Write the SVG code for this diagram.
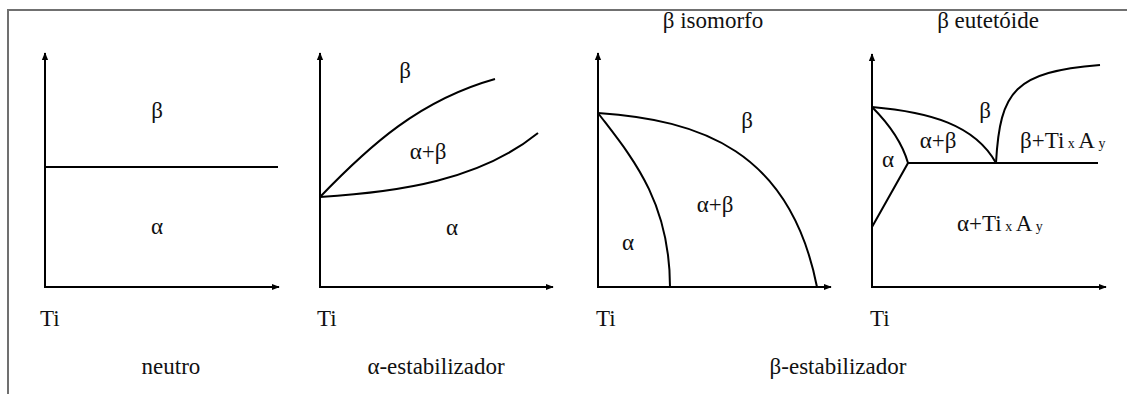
<svg xmlns="http://www.w3.org/2000/svg" width="1127" height="394" viewBox="0 0 1127 394" font-family="Liberation Serif, Times New Roman, serif">
<defs>
<marker id="arr" viewBox="0 0 10 10" refX="9" refY="5" markerWidth="8" markerHeight="8" markerUnits="userSpaceOnUse" orient="auto">
<path d="M0,1 L10,5 L0,9 Z" fill="#000"/>
</marker>
<style>
.ax{stroke:#000;stroke-width:2;fill:none;marker-end:url(#arr)}
.cv{stroke:#000;stroke-width:2;fill:none}
.t{font-size:23px;fill:#111}
.c{text-anchor:middle}
.s{font-size:14px}
</style>
</defs>
<rect width="1127" height="394" fill="#fff"/>
<path d="M8,394 V10 H1127" stroke="#707070" stroke-width="2" fill="none"/>

<g id="connectors">
<line class="ax" x1="45" y1="287" x2="45" y2="53"/>
<line class="ax" x1="44" y1="287" x2="279" y2="287"/>
<line class="ax" x1="320" y1="287" x2="320" y2="53"/>
<line class="ax" x1="319" y1="287" x2="553" y2="287"/>
<line class="ax" x1="598" y1="287" x2="598" y2="53"/>
<line class="ax" x1="597" y1="287" x2="831" y2="287"/>
<line class="ax" x1="872" y1="287" x2="872" y2="54"/>
<line class="ax" x1="871" y1="287" x2="1106" y2="287"/>
</g>

<g id="panel-neutro" class="t">
<line class="cv" x1="45" y1="167" x2="278" y2="167"/>
<text class="c" x="157" y="118">β</text>
<text class="c" x="157" y="234">α</text>
<text x="40" y="326">Ti</text>
<text class="c" x="171" y="374">neutro</text>
</g>

<g id="panel-alfa" class="t">
<path class="cv" d="M320,197 C370,145 420,100 495,79"/>
<path class="cv" d="M320,197 C400,192 480,180 538,133"/>
<text class="c" x="405" y="78">β</text>
<text class="c" x="428" y="159">α+β</text>
<text class="c" x="452" y="235">α</text>
<text x="317" y="326">Ti</text>
<text class="c" x="436" y="374">α-estabilizador</text>
</g>

<g id="panel-isomorfo" class="t">
<path class="cv" d="M598,113 C630,155 670,200 670,287"/>
<path class="cv" d="M598,113 C700,120 790,150 817,287"/>
<text class="c" x="713" y="28">β isomorfo</text>
<text class="c" x="747" y="128">β</text>
<text class="c" x="715" y="212">α+β</text>
<text class="c" x="628" y="250">α</text>
<text x="596" y="326">Ti</text>
</g>

<g id="panel-eutetoide" class="t">
<path class="cv" d="M872,107 C930,112 975,125 996,163"/>
<path class="cv" d="M872,107 Q900,135 908,163 L872,227"/>
<path class="cv" d="M908,163 H1098"/>
<path class="cv" d="M996,163 C1000,90 1015,72 1100,65"/>
<text class="c" x="988" y="28">β eutetóide</text>
<text class="c" x="985" y="118">β</text>
<text class="c" x="938" y="148">α+β</text>
<text class="c" x="888" y="167">α</text>
<text x="1020" y="148">β+Ti<tspan class="s"> x </tspan>A<tspan class="s"> y</tspan></text>
<text x="957" y="231">α+Ti<tspan class="s"> x </tspan>A<tspan class="s"> y</tspan></text>
<text x="870" y="326">Ti</text>
</g>

<g id="label-beta" class="t">
<text class="c" x="838" y="374">β-estabilizador</text>
</g>
</svg>
